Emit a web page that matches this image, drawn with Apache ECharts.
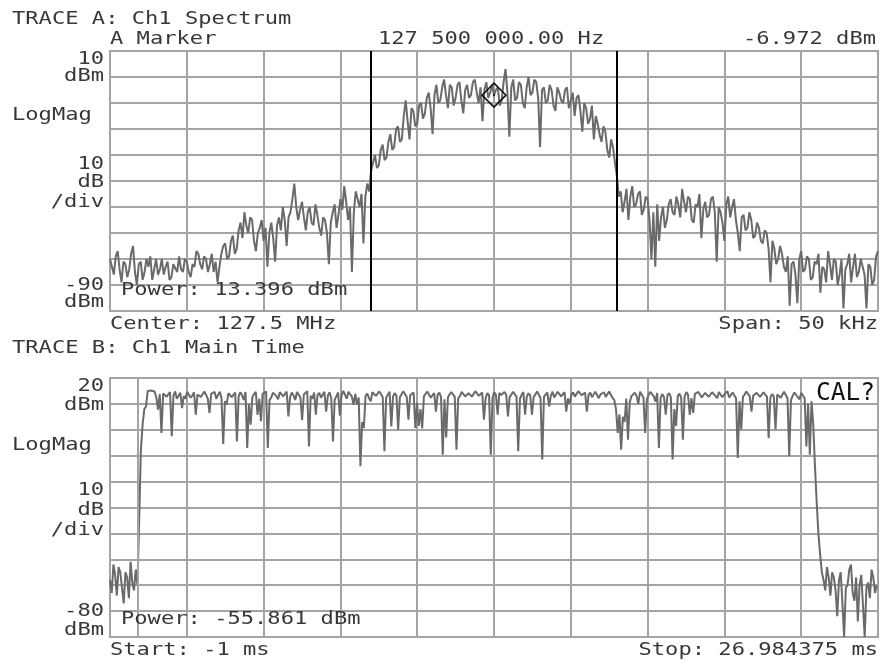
<!DOCTYPE html>
<html>
<head>
<meta charset="utf-8">
<script src="https://cdn.jsdelivr.net/npm/echarts@6/dist/echarts.min.js"></script>
<style>
html,body{margin:0;padding:0;background:#fff;}
#chart{width:886px;height:667px;}
</style>
</head>
<body>
<div id="chart"></div>
<script>
// ---------- DATA ----------
// Trace A: spectrum, offset from 127.5 MHz centre in kHz (start -25, step 0.125)
var specStartKHz = -25;
var specStepKHz = 0.125;
var specDbm = [
 -70,-73,-76,-69,-67,-74,-79,-71,-72,-77,-74,-68,-65,-75,-80,-72,-71,-78,-75,-70,
 -73,-69,-78,-74,-70,-76,-74,-70,-76,-73,-71,-78,-77,-72,-72,-75,-69,-74,-75,-70,
 -71,-75,-77,-72,-73,-67,-68,-72,-74,-69,-70,-75,-72,-68,-75,-71,-79,-73,-68,-65,
 -64,-70,-69,-63,-61,-68,-66,-59,-56,-62,-52,-57,-60,-54,-55,-63,-67,-60,-58,-55,
 -63,-58,-73,-60,-56,-62,-71,-57,-54,-59,-50,-55,-65,-54,-52,-47,-41,-50,-55,-51,
 -48,-54,-59,-52,-50,-56,-57,-49,-53,-58,-61,-54,-55,-60,-72,-56,-52,-49,-58,-53,
 -47,-51,-42,-48,-55,-50,-75,-52,-44,-47,-50,-45,-64,-46,-41,-44,-36,-33,-30,-35,
 -34,-28,-26,-32,-31,-25,-22,-28,-27,-20,-19,-25,-24,-15,-9,-17,-24,-12,-13,-19,
 -18,-11,-10,-16,-14,-8,-6,-12,-22,-7,-3,-10,-9,-4,-1,-7,-12,-3,-4,-11,
 -8,-3,-2,-9,-14,-5,-3,-8,-7,-2,-1,-6,-10,-4,-17,-5,-2,-8,-6,-3,
 -7,-5,-4,-11,-9,-2,3,-6,-23,-4,-1,-9,-8,-2,-3,-10,-12,-4,0,-7,
 -6,-1,-2,-8,-27,-5,-4,-10,-9,-3,-5,-11,-13,-4,-6,-9,-10,-5,-4,-12,
 -9,-6,-15,-8,-7,-13,-21,-10,-12,-18,-16,-11,-24,-15,-18,-22,-25,-19,-21,-28,
 -31,-24,-27,-33,-38,-46,-44,-52,-48,-43,-55,-46,-42,-50,-49,-45,-44,-53,-51,-46,
 -47,-55,-70,-52,-73,-49,-63,-54,-50,-58,-55,-49,-47,-52,-53,-46,-49,-54,-43,-48,
 -52,-46,-47,-55,-56,-49,-50,-45,-62,-51,-48,-54,-53,-47,-46,-52,-71,-50,-52,-56,
 -63,-49,-46,-54,-50,-47,-55,-60,-67,-54,-53,-59,-58,-52,-55,-62,-61,-56,-58,-63,
 -64,-59,-60,-66,-79,-63,-66,-72,-70,-65,-68,-73,-75,-69,-88,-72,-71,-76,-87,-70,
 -67,-75,-74,-69,-70,-78,-77,-71,-72,-68,-83,-73,-74,-79,-67,-72,-78,-70,-71,-80,
 -76,-70,-89,-74,-72,-68,-79,-73,-68,-77,-75,-70,-70,-76,-89,-72,-73,-80,-78,-69,
 -67
];
var bandEdgesKHz = [-8, 8];
var markerKHz = 0;
var markerDbm = -6.972;

// Trace B: main time, ms (start -1, step 0.0625)
var timeStartMs = -1;
var timeStepMs = 0.0625;
var timeDbm = [
 -58,-63,-52,-56,-64,-53,-55,-61,-67,-55,-57,-65,-51,-59,-62,-54,-60,-35,-8,2,
 8,9,15,15.3,15.2,15,14.8,12.5,7.8,13.8,-1.2,14,14.5,12.8,13,14.6,-2.5,13.2,14.8,12,
 12.5,14.3,8.4,13,12,14.7,14.6,12.4,13.2,14.5,5.8,13.6,14,12.7,12.2,14.8,14.9,12.1,6.5,13.9,
 13.5,14.6,12,13.4,14.7,12.3,-5.5,11,9.7,14.1,14.2,12.6,12.8,14.4,-4.5,12.9,14.5,13.3,11.5,14.6,
 -7,10,2,12.6,13.8,14.7,5.8,12,3.3,13.9,13.5,14.8,-7,11.4,12.5,14.3,14.6,13,11.8,14.5,
 14,12.9,12.6,14.8,5.2,12.7,14.4,13.2,11.5,14.6,14.1,12.5,3.7,13.6,13,14.9,-6.4,13.1,12,14.4,
 5.8,13.5,14.3,12.4,12.6,14.7,7,13.1,14.5,12.2,-4.5,11.6,13,14.4,5.5,13.3,15,13.6,12,14.7,
 14.2,12.8,9.7,13.9,9.7,12.5,-14.1,3,0.7,13.1,14,12.3,11,14.5,14.7,13.1,12.4,14.8,13.8,12.6,
 -8.3,12.4,13.5,14.7,1.3,12.8,14.2,13.1,0,12.6,13,14.9,14.6,12.7,3.9,13.3,13.5,14.4,0.7,10.5,
 1.5,8,0.5,12.9,12.6,14.8,14.5,12.4,13,14.2,7,13.5,14.4,12.6,-9.6,11.8,-3,12.5,13.7,14.6,
 14.9,12.7,-7.7,12.1,13,14.6,14.4,12.9,12.2,14.1,14.7,12.8,13.2,14.9,14.3,13.1,12.5,14.4,3.9,12.2,
 14.2,13.3,-9.6,12.4,14.5,13.6,5.8,14.3,13.4,12.7,14.6,13.5,5.2,12.6,13.6,14.7,14.9,12.8,-8.3,11.9,
 13.5,14.6,5.8,12.9,14.1,13.2,5.8,12.6,13,14.8,14.6,12.3,-11.5,12.8,13.2,14.4,9,13.1,14.7,12.5,
 12.8,14.7,14.2,12.9,13.4,14.5,7,12.1,10,13.6,14.5,12.8,13,14.9,14.8,13.3,12.6,14.4,7,13.5,
 14.4,12.6,13.3,14.7,14.9,12.2,13.7,14.4,14.5,12.7,12.9,14.8,14.2,12.3,11.5,8,-1.2,6,-7.7,5,
 3,12.1,-3.8,10.5,13,12.4,14.3,13.1,10,14.7,14.6,12.5,-1.2,11.8,13.4,14.6,14.4,12.9,11,14.2,
 -7,12.3,13.8,12.6,5.8,13.4,14.2,12.5,-11.5,8,1.5,12.9,14,12.4,-3.8,12.8,14.6,13.5,5.8,12.2,
 6.5,13.9,13.2,14.6,14.7,12.5,12.4,14.3,14.1,12.7,13,14.5,14.8,13.1,12.2,14.6,14.4,12.6,13.5,14.2,
 14.9,12.5,12.8,14.4,14,12.2,-10.9,11,0,12.7,13.6,14.8,14.5,12.9,7,13.2,13,14.3,14.6,12.7,
 12,14.5,14.2,12.8,-3.2,12.4,13.8,12.9,0,13.6,14.3,12.4,12.6,14.7,14,12.2,-10.2,11.5,13.1,14.4,
 14.5,12.6,11.8,14.3,14.1,12.2,-6.4,10,-9.6,11,2,-14,-28,-40,-48,-55,-58,-62,-53,-57,
 -64,-55,-57,-62,-72,-58,-55,-67,-80,-61,-60,-54,-52,-63,-66,-57,-74,-60,-56,-68,
 -80,-61,-59,-65,-54,-57,-63,-60
];
var timeMarkerMs = [0];

// axis ranges
var specRangeKHz = [-25, 25];
var specDbmRange = [-90, 10];
var timeRangeMs = [-1, 26.984375];
var timeDbmRange = [-80, 20];

// ---------- BUILD ----------
var specPts = specDbm.map(function(v, i){ return [specStartKHz + i*specStepKHz, v]; });
var timePts = timeDbm.map(function(v, i){ return [timeStartMs + i*timeStepMs, v]; });

var GRID = '#a4a4a4';
var TRACE = '#6a6a6a';
var TXT = '#383838';
var FONT = '"DejaVu Sans Mono", "Liberation Mono", monospace';
var SX = 1.3;

function t(str, x, y, align, opts){
  opts = opts || {};
  var size = opts.size || 17;
  return {
    type:'text', x:x, y:y, scaleX: opts.sx || SX, silent:true, z:100,
    style:{
      text:str, font: size + 'px ' + FONT, fill: opts.fill || TXT,
      align:align, verticalAlign:'middle', textAlign:align, textVerticalAlign:'middle'
    }
  };
}

var texts = [
  t('TRACE A: Ch1 Spectrum', 12, 19.5, 'left'),
  t('A Marker', 110, 40, 'left'),
  t('127 500 000.00 Hz', 378, 40, 'left'),
  t('-6.972 dBm', 876, 40, 'right'),
  t('10', 104, 60, 'right'),
  t('dBm', 104, 77, 'right'),
  t('LogMag', 12, 115.5, 'left'),
  t('10', 104, 164.5, 'right'),
  t('dB', 104, 182.5, 'right'),
  t('/div', 104, 203, 'right'),
  t('-90', 104, 286, 'right'),
  t('dBm', 104, 302.5, 'right'),
  t('Power: 13.396 dBm', 121, 291, 'left'),
  t('Center: 127.5 MHz', 110, 324.5, 'left'),
  t('Span: 50 kHz', 878, 324.5, 'right'),
  t('TRACE B: Ch1 Main Time', 12, 348.5, 'left'),
  t('20', 104, 387, 'right'),
  t('dBm', 104, 406, 'right'),
  t('LogMag', 12, 445.5, 'left'),
  t('10', 104, 491, 'right'),
  t('dB', 104, 510.5, 'right'),
  t('/div', 104, 530.5, 'right'),
  t('-80', 104, 612, 'right'),
  t('dBm', 104, 630.5, 'right'),
  t('Power: -55.861 dBm', 121, 619.5, 'left'),
  t('Start: -1 ms', 110, 651, 'left'),
  t('Stop: 26.984375 ms', 878, 651, 'right'),
  t('CAL?', 816, 393.5, 'left', {size:24, sx:1.02, fill:'#111'})
];

var split = {show:true, lineStyle:{color:GRID, width:2}};
var hidden = {axisLine:{show:false}, axisTick:{show:false}, axisLabel:{show:false}};

var chart = echarts.init(document.getElementById('chart'), null, {renderer:'canvas'});
chart.setOption({
  backgroundColor:'#ffffff',
  animation:false,
  grid:[
    {left:110, top:51, width:768, height:260, show:true, borderColor:GRID, borderWidth:2, backgroundColor:'transparent'},
    {left:110, top:378, width:768, height:259, show:true, borderColor:GRID, borderWidth:2, backgroundColor:'transparent'}
  ],
  xAxis:[
    Object.assign({gridIndex:0, type:'value', min:specRangeKHz[0], max:specRangeKHz[1], interval:5, splitLine:split}, hidden),
    Object.assign({gridIndex:1, type:'value', min:0, max:10, interval:1, splitLine:split}, hidden),
    Object.assign({gridIndex:1, type:'value', min:timeRangeMs[0], max:timeRangeMs[1], splitLine:{show:false}}, hidden)
  ],
  yAxis:[
    Object.assign({gridIndex:0, type:'value', min:specDbmRange[0], max:specDbmRange[1], interval:10, splitLine:split}, hidden),
    Object.assign({gridIndex:1, type:'value', min:timeDbmRange[0], max:timeDbmRange[1], interval:10, splitLine:split}, hidden)
  ],
  series:[
    {
      type:'line', xAxisIndex:0, yAxisIndex:0, data:specPts, showSymbol:false, symbol:'none',
      lineStyle:{color:TRACE, width:2}, silent:true, z:3,
      markLine:{
        silent:true, symbol:['none','none'], label:{show:false},
        lineStyle:{color:'#000', width:2, type:'solid'},
        data: bandEdgesKHz.map(function(v){ return {xAxis:v}; })
      },
      markPoint:{
        silent:true, label:{show:false},
        data:[
          {coord:[markerKHz, markerDbm], symbol:'diamond', symbolSize:[24,24],
           itemStyle:{color:'rgba(0,0,0,0)', borderColor:'#111', borderWidth:1.5}},
          {coord:[markerKHz, markerDbm], symbol:'rect', symbolSize:[2,2],
           itemStyle:{color:'#111'}}
        ]
      }
    },
    {
      type:'line', xAxisIndex:2, yAxisIndex:1, data:timePts, showSymbol:false, symbol:'none',
      lineStyle:{color:TRACE, width:2}, silent:true, z:3,
      markLine:{
        silent:true, symbol:['none','none'], label:{show:false},
        lineStyle:{color:GRID, width:2, type:'solid'},
        data: timeMarkerMs.map(function(v){ return {xAxis:v}; })
      }
    }
  ],
  graphic: texts
});
</script>
</body>
</html>
